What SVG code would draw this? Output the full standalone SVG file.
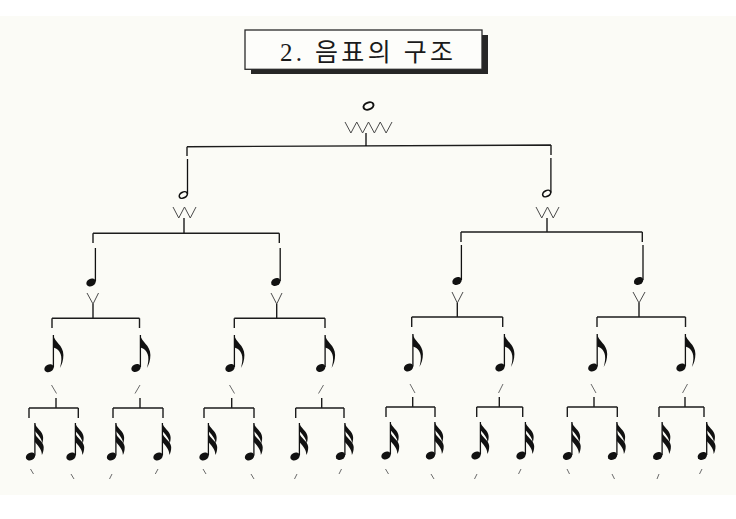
<svg xmlns="http://www.w3.org/2000/svg" xmlns:xlink="http://www.w3.org/1999/xlink" width="736" height="519" viewBox="0 0 736 519">
<style>
.ln{stroke:#1c1c1c;stroke-width:1.4;fill:none;stroke-linecap:butt}
.zz{stroke:#4a4a4a;stroke-width:1;fill:none;stroke-linejoin:miter}
.sl{stroke:#6a6a6a;stroke-width:1;fill:none}
.st{stroke:#111;stroke-width:1.3;fill:none}
.hd{fill:#111}
.title{font-family:"Liberation Serif","Noto Sans CJK KR",serif;font-size:25px;fill:#1a1a1a}
</style>
<defs>
<ellipse id="hf" cx="0" cy="0" rx="4.9" ry="3.7" transform="rotate(-28)" class="hd"/>
<ellipse id="hh" cx="0" cy="0" rx="4.3" ry="2.9" transform="rotate(-28)" fill="none" stroke="#111" stroke-width="1.6"/>
<path id="f8" class="hd" d="M0,0 C0.8,7 10,10 10,20 C10,25.5 8.5,29.5 6.5,33 C7.6,29 8.3,25 7.8,21.5 C7,16 3.5,13.5 0,12.5 Z"/>
<g id="f16" class="hd">
<path d="M0,0 C0.8,5 8,8 8.2,14 C8.4,17 7.8,19 7.2,20.5 C7.2,17 5,13.5 0,8 Z"/>
<path d="M0,10 C0.8,15 8.6,18 8.8,24 C8.9,27.5 8,30 7,32 C7,28 5,24.5 0,19 Z"/>
</g>
</defs>
<rect x="0" y="0" width="736" height="519" fill="#ffffff"/>
<rect x="0" y="16" width="736" height="479" fill="#fbfbf6"/>

<g id="title">
<rect x="251" y="35" width="237" height="39" fill="#262626"/>
<rect x="245" y="30" width="237" height="39.3" fill="#fdfdfa" stroke="#2a2a2a" stroke-width="1.3"/>
<text class="title" x="280" y="61" textLength="173" lengthAdjust="spacing">2. 음표의 구조</text>
</g>

<g id="connectors">
<path class="ln" d="M366,133 V146 M187,146.7 L551,145 M187,146.7 V156 M551,145 V155"/>
<path class="ln" d="M184,218 V233 M547,218 V232 M93,233.3 H279.3 M461,232 H642.3 M93,233.3 V243 M279.3,233.3 V243 M461,232 V242 M642.3,232 V242"/>
<path class="ln" d="M93,304 V318 M276.7,304 V318 M457.3,303 V317 M639,303 V317 M52,318.3 H139.5 M234.3,318.3 H325 M411.7,317 H502.7 M597,317 H685.5 M52,318.3 V328 M139.5,318.3 V328 M234.3,318.3 V328 M325,318.3 V328 M411.7,317 V327 M502.7,317 V327 M597,317 V327 M685.5,317 V327"/>
<path class="ln" d="M56,398 V408 M140,398 V408 M231.7,398 V408 M321.7,398 V408 M412.7,397 V407 M499.3,397 V407 M594,397 V407 M685,397 V407 M29,408 H78.3 M113,408 H163 M204,408 H254 M295.7,408 H344 M386,407 H435 M476.7,407 H522.7 M567.3,407 H617.3 M659,407 H704 M29,408 V418 M78.3,408 V418 M113,408 V418 M163,408 V418 M204,408 V418 M254,408 V418 M295.7,408 V418 M344,408 V418 M386,407 V417 M435,407 V417 M476.7,407 V417 M522.7,407 V417 M567.3,407 V417 M617.3,407 V417 M659,407 V417 M704,407 V417"/>
</g>

<g id="whole">
<ellipse cx="368.5" cy="106" rx="5.2" ry="3.4" transform="rotate(-22 368.5 106)" fill="none" stroke="#111" stroke-width="2"/>
<polyline class="zz" points="345,122 350.9,133 356.75,122 362.6,133 368.5,122 374.4,133 380.25,122 386.1,133 392,122"/>
</g>

<g id="half-1">
<use xlink:href="#hh" href="#hh" x="183.3" y="195"/>
<path class="st" d="M187.5,159 V194"/>
<polyline class="zz" points="173,207 178.75,218 184.5,207 190.25,218 196,207"/>
</g>
<g id="half-2">
<use xlink:href="#hh" href="#hh" x="546.7" y="193.5"/>
<path class="st" d="M550.9,158 V192.5"/>
<polyline class="zz" points="536,207 541.75,218 547.5,207 553.25,218 559,207"/>
</g>

<g id="quarter-1"><use xlink:href="#hf" href="#hf" x="91" y="282.5"/><path class="st" d="M95.4,248 V281.5"/><polyline class="zz" points="87,293 93,304 98.5,293"/></g>
<g id="quarter-2"><use xlink:href="#hf" href="#hf" x="275.8" y="282"/><path class="st" d="M280.2,248 V281"/><polyline class="zz" points="271,293 276.7,304 282,293"/></g>
<g id="quarter-3"><use xlink:href="#hf" href="#hf" x="457" y="281"/><path class="st" d="M461.4,245 V280"/><polyline class="zz" points="452,292 457.3,303 463,292"/></g>
<g id="quarter-4"><use xlink:href="#hf" href="#hf" x="638.6" y="281"/><path class="st" d="M643,245 V280"/><polyline class="zz" points="633,292 639,303 645,292"/></g>

<g id="eighth-1"><use xlink:href="#hf" href="#hf" x="49" y="368.3"/><path class="st" d="M53.4,335 V367.5"/><use xlink:href="#f8" href="#f8" x="53.4" y="335"/><path class="sl" d="M51.5,385 L56.5,393.5"/></g>
<g id="eighth-2"><use xlink:href="#hf" href="#hf" x="136" y="368"/><path class="st" d="M140.4,335 V367"/><use xlink:href="#f8" href="#f8" x="140.4" y="335"/><path class="sl" d="M140,385 L135,393.5"/></g>
<g id="eighth-3"><use xlink:href="#hf" href="#hf" x="230" y="368"/><path class="st" d="M234.4,335 V367"/><use xlink:href="#f8" href="#f8" x="234.4" y="335"/><path class="sl" d="M229.5,385 L234.5,393.5"/></g>
<g id="eighth-4"><use xlink:href="#hf" href="#hf" x="320.7" y="368"/><path class="st" d="M325.1,335 V367"/><use xlink:href="#f8" href="#f8" x="325.1" y="335"/><path class="sl" d="M323.5,385 L318.5,393.5"/></g>
<g id="eighth-5"><use xlink:href="#hf" href="#hf" x="408.5" y="367.5"/><path class="st" d="M412.9,334 V366.5"/><use xlink:href="#f8" href="#f8" x="412.9" y="334"/><path class="sl" d="M410,384 L415,393"/></g>
<g id="eighth-6"><use xlink:href="#hf" href="#hf" x="500" y="367.5"/><path class="st" d="M504.4,334 V366.5"/><use xlink:href="#f8" href="#f8" x="504.4" y="334"/><path class="sl" d="M503,384 L498.5,393"/></g>
<g id="eighth-7"><use xlink:href="#hf" href="#hf" x="592.8" y="367.5"/><path class="st" d="M597.2,334 V366.5"/><use xlink:href="#f8" href="#f8" x="597.2" y="334"/><path class="sl" d="M591,384 L596,393"/></g>
<g id="eighth-8"><use xlink:href="#hf" href="#hf" x="681" y="367.5"/><path class="st" d="M685.4,334 V366.5"/><use xlink:href="#f8" href="#f8" x="685.4" y="334"/><path class="sl" d="M687.5,384 L682.5,393"/></g>

<g id="s16-1"><use xlink:href="#hf" href="#hf" x="30.5" y="456.5"/><path class="st" d="M34.9,423 V455.5"/><use xlink:href="#f16" href="#f16" x="34.9" y="423"/><path class="sl" d="M30.5,469 L33.5,474"/></g>
<g id="s16-2"><use xlink:href="#hf" href="#hf" x="71" y="456.5"/><path class="st" d="M75.4,423 V455.5"/><use xlink:href="#f16" href="#f16" x="75.4" y="423"/><path class="sl" d="M71,474 L74,479"/></g>
<g id="s16-3"><use xlink:href="#hf" href="#hf" x="111.5" y="456.5"/><path class="st" d="M115.9,423 V455.5"/><use xlink:href="#f16" href="#f16" x="115.9" y="423"/><path class="sl" d="M112,474 L109.5,479"/></g>
<g id="s16-4"><use xlink:href="#hf" href="#hf" x="158" y="456.5"/><path class="st" d="M162.4,423 V455.5"/><use xlink:href="#f16" href="#f16" x="162.4" y="423"/><path class="sl" d="M158,469 L155.3,474"/></g>
<g id="s16-5"><use xlink:href="#hf" href="#hf" x="204" y="456.5"/><path class="st" d="M208.4,423 V455.5"/><use xlink:href="#f16" href="#f16" x="208.4" y="423"/><path class="sl" d="M203,469 L206,474"/></g>
<g id="s16-6"><use xlink:href="#hf" href="#hf" x="249.5" y="456.5"/><path class="st" d="M253.9,423 V455.5"/><use xlink:href="#f16" href="#f16" x="253.9" y="423"/><path class="sl" d="M251,474 L254,479"/></g>
<g id="s16-7"><use xlink:href="#hf" href="#hf" x="295" y="456.5"/><path class="st" d="M299.4,423 V455.5"/><use xlink:href="#f16" href="#f16" x="299.4" y="423"/><path class="sl" d="M297,474 L294.5,479"/></g>
<g id="s16-8"><use xlink:href="#hf" href="#hf" x="340.5" y="456"/><path class="st" d="M344.9,423 V455"/><use xlink:href="#f16" href="#f16" x="344.9" y="423"/><path class="sl" d="M341.5,469 L339,474"/></g>
<g id="s16-9"><use xlink:href="#hf" href="#hf" x="386" y="455.5"/><path class="st" d="M390.4,422 V454.5"/><use xlink:href="#f16" href="#f16" x="390.4" y="422"/><path class="sl" d="M385.5,469 L388.5,474"/></g>
<g id="s16-10"><use xlink:href="#hf" href="#hf" x="430.5" y="455.5"/><path class="st" d="M434.9,422 V454.5"/><use xlink:href="#f16" href="#f16" x="434.9" y="422"/><path class="sl" d="M431,474 L434,479"/></g>
<g id="s16-11"><use xlink:href="#hf" href="#hf" x="476" y="455.5"/><path class="st" d="M480.4,422 V454.5"/><use xlink:href="#f16" href="#f16" x="480.4" y="422"/><path class="sl" d="M477,474 L474.5,479"/></g>
<g id="s16-12"><use xlink:href="#hf" href="#hf" x="521" y="455.5"/><path class="st" d="M525.4,422 V454.5"/><use xlink:href="#f16" href="#f16" x="525.4" y="422"/><path class="sl" d="M521,469 L518.5,474"/></g>
<g id="s16-13"><use xlink:href="#hf" href="#hf" x="567.5" y="456"/><path class="st" d="M571.9,422 V455"/><use xlink:href="#f16" href="#f16" x="571.9" y="422"/><path class="sl" d="M567,469 L569.5,474"/></g>
<g id="s16-14"><use xlink:href="#hf" href="#hf" x="612.5" y="456"/><path class="st" d="M616.9,422 V455"/><use xlink:href="#f16" href="#f16" x="616.9" y="422"/><path class="sl" d="M612,474 L614.5,479"/></g>
<g id="s16-15"><use xlink:href="#hf" href="#hf" x="657.7" y="456"/><path class="st" d="M662.1,422 V455"/><use xlink:href="#f16" href="#f16" x="662.1" y="422"/><path class="sl" d="M659,474 L657,479"/></g>
<g id="s16-16"><use xlink:href="#hf" href="#hf" x="702.3" y="456"/><path class="st" d="M706.7,422 V455"/><use xlink:href="#f16" href="#f16" x="706.7" y="422"/><path class="sl" d="M702,469 L699.5,474"/></g>
</svg>
